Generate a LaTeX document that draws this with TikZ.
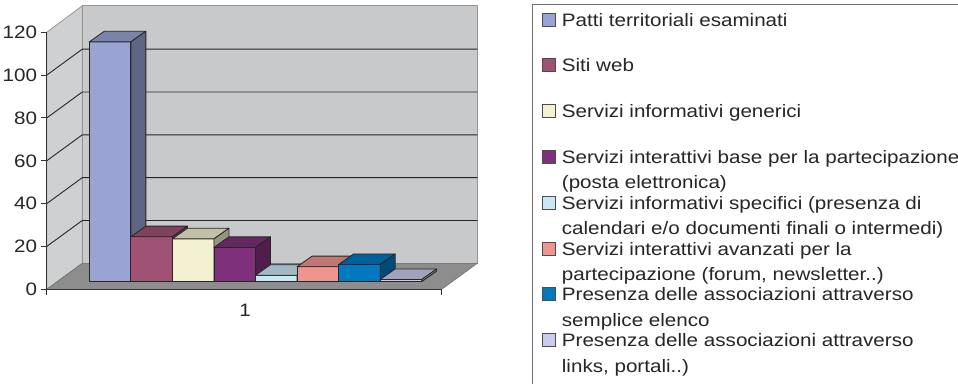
\documentclass[tikz,border=0pt]{standalone}
\usepackage{fontspec}
\setmainfont{Liberation Sans}[FakeStretch=1.145]
\usetikzlibrary{positioning}
\definecolor{wallgray}{RGB}{200,201,203}
\definecolor{sidegray}{RGB}{207,208,210}
\definecolor{floorgray}{RGB}{141,141,141}
\definecolor{edgegray}{RGB}{150,150,150}
\definecolor{colpatti}{RGB}{153,164,212}
\definecolor{colsiti}{RGB}{160,82,116}
\definecolor{colgenerici}{RGB}{243,241,210}
\definecolor{colbase}{RGB}{126,48,122}
\definecolor{colspecifici}{RGB}{199,232,244}
\definecolor{colavanzati}{RGB}{239,149,144}
\definecolor{colelenco}{RGB}{0,121,192}
\definecolor{collinks}{RGB}{201,204,234}
\tikzset{
wall/.style={fill=wallgray, draw=edgegray, line width=0.8pt}, % back wall and side wall
floor/.style={fill=floorgray, draw=floorgray!80!black, line width=0.6pt}, % the floor of the box
grid/.style={draw=black!85, line width=0.9pt}, % horizontal lines every 20
axis/.style={draw=black!80, line width=1pt}, % value and category axes
barface/.style={draw=black!85, line width=0.8pt, line join=round}, % every face of a bar
legkey/.style={draw=black!70, line width=0.8pt, minimum size=13pt, inner sep=0pt}, % small squares of the legend
legtext/.style={inner sep=0pt, font=\fontsize{18}{20}\selectfont, text=black!85}, % legend entries
ticklabel/.style={inner sep=0pt, font=\fontsize{18}{20}\selectfont, text=black!85}, % numbers on the axis
}

\begin{document}
\begin{tikzpicture}[x=1pt, y=-1pt]
  \useasboundingbox (0,0) rectangle (958,383);
  \clip (0,0) rectangle (958,383);

  % walls and floor
  \filldraw[wall, fill=sidegray] (46.7,289.3) -- (46.7,32.3) -- (82.3,5.8) -- (82.3,263.3) -- cycle;
  \filldraw[wall] (82.3,5.8) rectangle (477.3,263.3);
  \filldraw[floor] (46.7,289.3) -- (82.3,263.3) -- (477.3,263.3) -- (441.7,289.3) -- cycle;

  % grid lines
  \foreach \k in {1,...,5} {
    \draw[grid] (46.7,{289.3-42.83*\k}) -- (82.3,{263.3-42.83*\k}) -- (477.3,{263.3-42.83*\k});
  }

  % axes, ticks and labels
  \draw[axis] (46.7,32.3) -- (46.7,289.3) -- (441.7,289.3);
  \draw[axis] (46.7,289.3) -- (46.7,295.3);
  \draw[axis] (441.7,289.3) -- (441.7,295.3);
  \foreach \v in {0,20,...,120} {
    \draw[axis] (40.7,{289.3-2.1415*\v}) -- (46.7,{289.3-2.1415*\v});
    \node[ticklabel, anchor=east] (lab\v) at (37.3,{289.3-2.1415*\v}) {\v};
  }
  \node[ticklabel] (cat1) at (245,310) {1};

  % bars
  \foreach \val/\col [count=\i] in {112/colpatti, 21/colsiti, 20/colgenerici, 16/colbase,
                                   3/colspecifici, 7/colavanzati, 8/colelenco, 1/collinks} {
    \pgfmathsetmacro\xa{89.3+41.55*(\i-1)}
    \pgfmathsetmacro\yt{281.7-2.1415*\val}
    \filldraw[barface, fill=\col] (\xa,281.7) rectangle ({\xa+41.55},\yt);
    \filldraw[barface, fill=\col!80!black] (\xa,\yt) -- ++(41.55,0) -- ++(15,-10.6) -- ++(-41.55,0) -- cycle;
    \filldraw[barface, fill=\col!62!black] ({\xa+41.55},\yt) -- ++(15,-10.6) -- ({\xa+56.55},271.1) -- ({\xa+41.55},281.7) -- cycle;
  }

  % legend
  \draw[fill=white, draw=black!55, line width=0.8pt] (532.7,4.7) rectangle (990,400);
  \foreach \col [count=\i] in {colpatti, colsiti, colgenerici, colbase,
                               colspecifici, colavanzati, colelenco, collinks} {
    \node[legkey, fill=\col] (key\i) at (549,{26-6.5+45.8*(\i-1)}) {};
  }
  \node[legtext, anchor=base west] (leg1) at (561.7,26) {Patti territoriali esaminati};
  \node[legtext, anchor=base west] (leg2) at (561.7,71.8) {Siti web};
  \node[legtext, anchor=base west] (leg3) at (561.7,117.6) {Servizi informativi generici};
  \node[legtext, anchor=base west] (leg4) at (561.7,163.4) {Servizi interattivi base per la partecipazione};
  \node[legtext, anchor=base west] (leg4b) at (561.7,188.9) {(posta elettronica)};
  \node[legtext, anchor=base west] (leg5) at (561.7,209.2) {Servizi informativi specifici (presenza di};
  \node[legtext, anchor=base west] (leg5b) at (561.7,234.7) {calendari e/o documenti finali o intermedi)};
  \node[legtext, anchor=base west] (leg6) at (561.7,255.0) {Servizi interattivi avanzati per la};
  \node[legtext, anchor=base west] (leg6b) at (561.7,280.5) {partecipazione (forum, newsletter..)};
  \node[legtext, anchor=base west] (leg7) at (561.7,300.8) {Presenza delle associazioni attraverso};
  \node[legtext, anchor=base west] (leg7b) at (561.7,326.3) {semplice elenco};
  \node[legtext, anchor=base west] (leg8) at (561.7,346.6) {Presenza delle associazioni attraverso};
  \node[legtext, anchor=base west] (leg8b) at (561.7,372.1) {links, portali..)};
\end{tikzpicture}
\end{document}
